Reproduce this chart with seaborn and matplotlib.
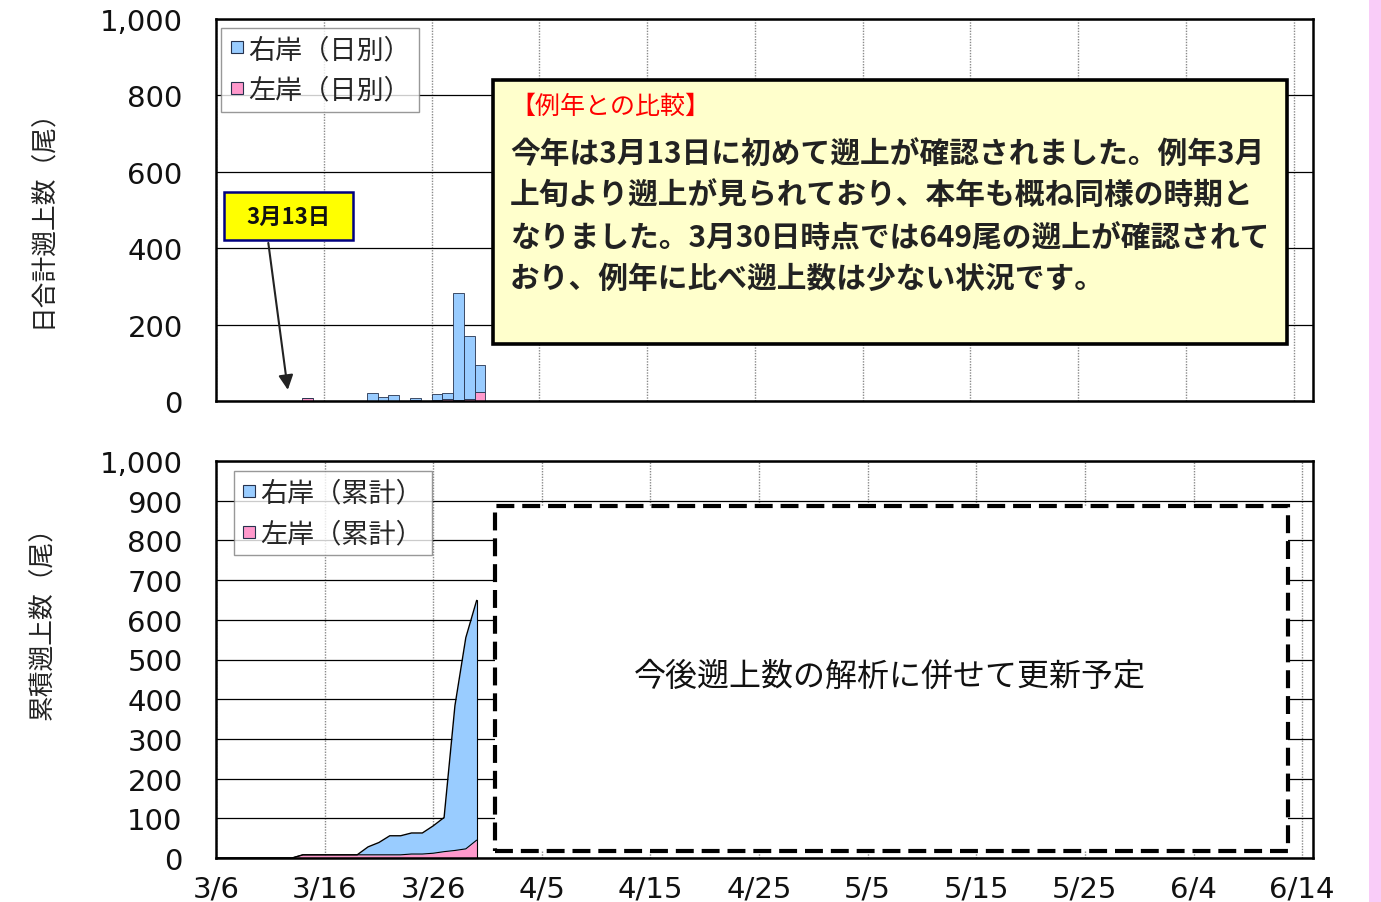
import numpy as np
import pandas as pd
import matplotlib
matplotlib.use("Agg")
import matplotlib.pyplot as plt
from matplotlib.lines import Line2D
from matplotlib.patches import Rectangle
import seaborn as sns

# days of the run so far: 3/6 .. 3/30
dates = pd.date_range("2021-03-06", "2021-03-30", freq="D")

# daily counts (upper chart)
right_daily = [0, 0, 0, 0, 0, 0, 0, 0, 0, 0, 0, 0, 0, 0,
               20, 11, 17, 0, 5, 0, 16, 17, 279, 167, 72]
left_daily = [0, 0, 0, 0, 0, 0, 0, 0, 8, 0, 0, 0, 0, 0,
              0, 0, 0, 0, 2, 0, 2, 4, 3, 4, 23]

# cumulative counts (lower chart)
right_cum = [0, 0, 0, 0, 0, 0, 0, 0, 0, 0, 0, 0, 0, 0,
             20, 31, 48, 48, 53, 53, 69, 86, 365, 532, 604]
left_cum = [0, 0, 0, 0, 0, 0, 0, 0, 8, 8, 8, 8, 8, 8,
            8, 8, 8, 8, 10, 10, 12, 16, 19, 23, 45]

tick_labels = ["3/6", "3/16", "3/26", "4/5", "4/15", "4/25",
               "5/5", "5/15", "5/25", "6/4", "6/14"]
banks = ["右岸", "左岸"]
daily_labels = ["右岸（日別）", "左岸（日別）"]
cum_labels = ["右岸（累計）", "左岸（累計）"]

note_title = "【例年との比較】"
note_lines = [
    "今年は3月13日に初めて遡上が確認されました。例年3月",
    "上旬より遡上が見られており、本年も概ね同様の時期と",
    "なりました。3月30日時点では649尾の遡上が確認されて",
    "おり、例年に比べ遡上数は少ない状況です。",
]

BLUE = "#99CCFF"
PINK = "#FF99CC"
EDGE = "#26324d"
JP = "Noto Sans CJK JP"

sns.set_theme(style="white")
plt.rcParams["font.family"] = ["DejaVu Sans", JP]

W, H = 1381, 903
fig = plt.figure(figsize=(W / 100, H / 100), dpi=100)
fig.patches.append(Rectangle((1369 / W, 0), 12 / W, 1, transform=fig.transFigure,
                             facecolor="#F9CCF8", edgecolor="none"))

days = (dates - dates[0]).days.values
ticks = np.arange(0, 101, 10)

ax1 = fig.add_axes([216 / W, 1 - 402 / H, 1097 / W, 382 / H])
ax2 = fig.add_axes([216 / W, 1 - 859 / H, 1097 / W, 397 / H])

# ---- upper: daily stacked bars
df = pd.DataFrame({
    "day": np.tile(days, 2),
    "count": right_daily + left_daily,
    "bank": [banks[0]] * len(days) + [banks[1]] * len(days),
})
sns.histplot(data=df, x="day", weights="count", hue="bank", hue_order=banks,
             multiple="stack", binwidth=1, binrange=(0, len(days)),
             palette={banks[0]: BLUE, banks[1]: PINK}, alpha=1,
             edgecolor=EDGE, linewidth=0.6, legend=False, ax=ax1)

# ---- lower: cumulative stacked area
total_cum = np.array(right_cum) + np.array(left_cum)
ax2.fill_between(days, 0, left_cum, color=PINK, lw=0)
ax2.fill_between(days, left_cum, total_cum, color=BLUE, lw=0)
sns.lineplot(x=days, y=total_cum, color="black", lw=1, ax=ax2)
sns.lineplot(x=days, y=left_cum, color="black", lw=0.8, ax=ax2)
ax2.plot([days[-1], days[-1]], [0, total_cum[-1]], color="black", lw=0.8)

for ax, xmax, ystep in [(ax1, 101.8, 200), (ax2, 101.0, 100)]:
    ax.set_xlim(0, xmax)
    ax.set_ylim(0, 1000)
    ax.set_xticks(ticks)
    yt = np.arange(0, 1001, ystep)
    ax.set_yticks(yt)
    ax.set_yticklabels([f"{v:,}" for v in yt])
    ax.set_xlabel("")
    ax.set_ylabel("")
    ax.set_axisbelow(True)
    ax.grid(axis="y", color="black", lw=0.9, ls="-")
    ax.grid(axis="x", color="#8a8a8a", lw=1.0, ls=(0, (1, 1)))
    for s in ax.spines.values():
        s.set_color("black")
        s.set_linewidth(1.8)
    ax.tick_params(axis="y", length=0, pad=24, labelsize=21, labelcolor="#111")

ax1.tick_params(axis="x", length=0, labelbottom=False)
ax2.set_xticklabels(tick_labels)
ax2.tick_params(axis="x", length=6, width=1, color="#888", direction="out",
                pad=6, labelsize=21, labelcolor="#111")

# legends
leg_font = {"family": JP, "size": 19.5}
for ax, labels, anchor in [(ax1, daily_labels, (0.005, 0.977)),
                           (ax2, cum_labels, (0.016, 0.974))]:
    handles = [Line2D([], [], ls="none", marker="s", markersize=9,
                      markerfacecolor=c, markeredgecolor=EDGE, markeredgewidth=0.8)
               for c in (BLUE, PINK)]
    leg = ax.legend(handles, labels, loc="upper left", bbox_to_anchor=anchor,
                    borderaxespad=0, prop=leg_font, frameon=True, fancybox=False,
                    handlelength=0.55, handletextpad=0.15, labelspacing=0.5,
                    borderpad=0.3)
    leg.get_frame().set_edgecolor("#7f7f7f")
    leg.get_frame().set_linewidth(1.0)

# "3月13日" callout
ax1.add_patch(Rectangle((0.74, 421), 11.97, 126, facecolor="#FFFF00",
                        edgecolor="#000080", lw=1.8, zorder=6))
ax1.text(0.74 + 11.97 / 2, 484, "3月13日", ha="center", va="center",
         family=JP, fontsize=16, weight="bold", color="#111", zorder=7)
ax1.annotate("", xy=(6.7, 22), xytext=(4.82, 421),
             arrowprops=dict(arrowstyle="-|>", color="#222", lw=1.5,
                             mutation_scale=22), zorder=6)

# comparison note box
ax1.add_patch(Rectangle((0.2525, 0.1492), 0.7238, 0.6911, transform=ax1.transAxes,
                        facecolor="#FFFFCC", edgecolor="black", lw=2.6, zorder=5))
fig.text(510 / W, 1 - 107 / H, note_title, ha="left", va="center",
         family=JP, fontsize=18, color="#FF0000", zorder=8)
for i, line in enumerate(note_lines):
    fig.text(510 / W, 1 - (155 + 41.3 * i) / H, line, ha="left", va="center",
             family=JP, fontsize=21.4, weight="bold", color="#222", zorder=8)

# pending update box
ax2.add_patch(Rectangle((0.2543, 0.0176), 0.7229, 0.869, transform=ax2.transAxes,
                        facecolor="white", edgecolor="black", lw=3,
                        ls=(0, (4.3, 1.9)), zorder=5))
ax2.text(0.6144, 0.4584, "今後遡上数の解析に併せて更新予定", transform=ax2.transAxes,
         ha="center", va="center", family=JP, fontsize=23, color="#111", zorder=6)

# y-axis titles
fig.text(43 / W, 1 - 212 / H, "日合計遡上数（尾）", rotation=90, ha="center",
         va="center", family=JP, fontsize=18.5, color="#222")
fig.text(43 / W, 1 - 617 / H, "累積遡上数（尾）", rotation=90, ha="center",
         va="center", family=JP, fontsize=18.5, color="#222")

fig.savefig("out.png", dpi=100)
